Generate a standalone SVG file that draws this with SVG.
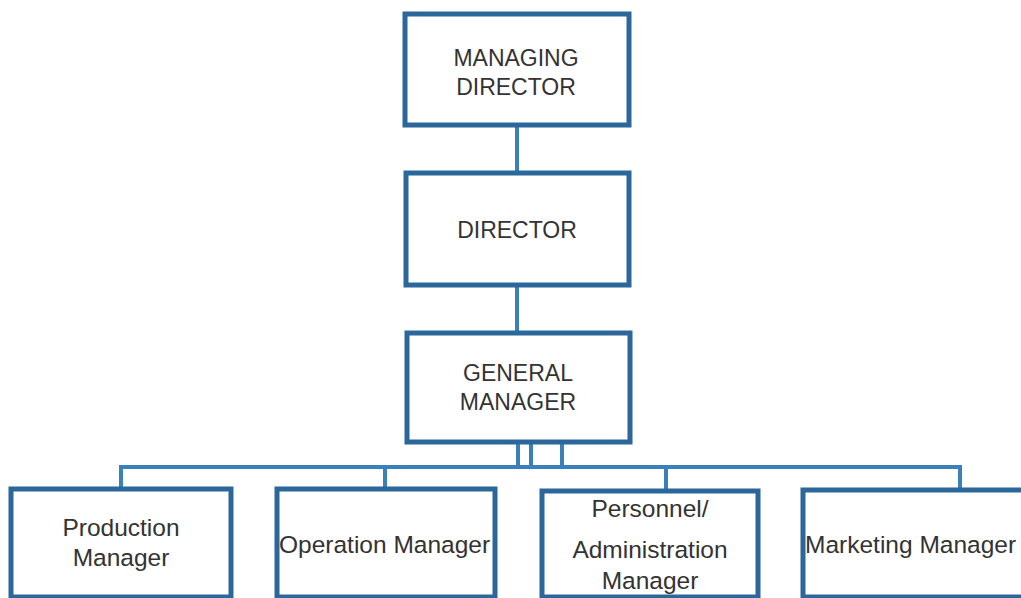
<svg xmlns="http://www.w3.org/2000/svg" width="1021" height="598" viewBox="0 0 1021 598">
<style>
.box{fill:#ffffff;stroke:#2c679b;stroke-width:5}
.ln{fill:none;stroke:#3a80ba;stroke-width:4}
.t{font-family:"Liberation Sans",Arial,sans-serif;fill:#333333;font-size:23px}
.c{text-anchor:middle}
.lc{font-size:24.5px}
</style>
<rect width="1021" height="598" fill="#ffffff"/>
<g id="connectors">
<path class="ln" d="M517,125V173"/>
<path class="ln" d="M517,285V333"/>
<path class="ln" d="M518,442V467M531,442V467M562,442V467"/>
<path class="ln" d="M121,489V467H960V490"/>
<path class="ln" d="M385,467V489M666,467V491"/>
</g>
<g id="md">
<rect class="box" x="405" y="14" width="224" height="111"/>
<text class="t c" x="516" y="66">MANAGING</text>
<text class="t c" x="516" y="95">DIRECTOR</text>
</g>
<g id="director">
<rect class="box" x="406" y="173" width="223" height="112"/>
<text class="t c" x="517" y="238">DIRECTOR</text>
</g>
<g id="gm">
<rect class="box" x="407" y="333" width="223" height="109"/>
<text class="t c" x="518" y="381">GENERAL</text>
<text class="t c" x="518" y="410">MANAGER</text>
</g>
<g id="production">
<rect class="box" x="11" y="489" width="220" height="108"/>
<text class="t c lc" x="121" y="536">Production</text>
<text class="t c lc" x="121" y="566">Manager</text>
</g>
<g id="operation">
<rect class="box" x="277" y="489" width="218" height="108"/>
<text class="t lc" x="279" y="553">Operation Manager</text>
</g>
<g id="personnel">
<rect class="box" x="542" y="491" width="216" height="106"/>
<text class="t c lc" x="650" y="517">Personnel/</text>
<text class="t c lc" x="650" y="558">Administration</text>
<text class="t c lc" x="650" y="589">Manager</text>
</g>
<g id="marketing">
<rect class="box" x="803" y="490" width="230" height="107"/>
<text class="t lc" x="805" y="553">Marketing Manager</text>
</g>
</svg>
